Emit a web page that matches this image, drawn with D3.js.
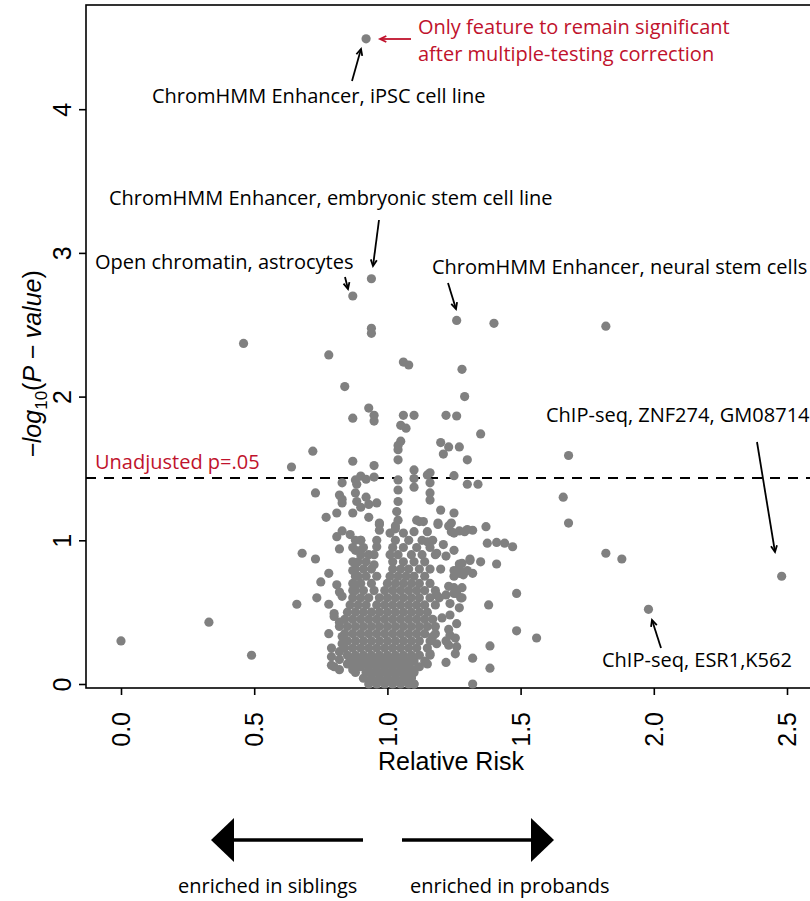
<!DOCTYPE html>
<html><head><meta charset="utf-8">
<script src="https://cdn.jsdelivr.net/npm/d3@7"></script>
<style>body{margin:0;background:#fff}svg{display:block}</style>
</head><body>
<svg id="c" width="810" height="901"></svg>
<script>
// ---- data: [relative risk, -log10(p)] ----
const labelledPoints = [[0.92,4.49],[0.94,2.82],[0.87,2.70],[1.26,2.53],[1.40,2.51],[1.82,2.49],[0.46,2.37],[2.48,0.75],[1.98,0.52]];
const upperPoints = [[0.94,2.475],[0.94,2.44],[0.78,2.29],[1.06,2.24],[1.08,2.22],[1.28,2.19],[0.84,2.07],[1.29,2.00],[0.93,1.92],[0.87,1.85],[0.95,1.87],[0.95,1.83],[1.06,1.87],[1.10,1.87],[1.05,1.80],[1.07,1.78],[1.22,1.87],[1.26,1.865],[1.35,1.74],[1.05,1.69],[1.04,1.66],[1.04,1.63],[1.04,1.56],[1.20,1.68],[1.23,1.65],[1.27,1.65],[1.21,1.60],[1.30,1.56],[0.72,1.62],[0.64,1.51],[0.87,1.55],[0.95,1.52],[1.10,1.49],[1.16,1.47],[1.25,1.45],[1.68,1.59]];
const thresholdPoints = [[0.90,1.447],[0.92,1.425],[0.95,1.44],[1.04,1.42],[1.10,1.43],[1.15,1.455],[0.88,1.42],[0.83,1.40],[1.10,1.37],[1.16,1.40],[1.30,1.39],[1.34,1.39],[1.04,1.35]];
const midPoints = [[0.73,1.33],[0.82,1.315],[0.83,1.285],[0.88,1.33],[0.885,1.39],[0.92,1.30],[0.83,1.26],[0.885,1.27],[0.90,1.23],[0.93,1.25],[0.96,1.26],[0.87,1.19],[0.81,1.19],[0.77,1.16],[0.93,1.16],[0.97,1.12],[0.97,1.07],[0.97,1.11],[1.16,1.33],[1.16,1.28],[1.04,1.27],[1.035,1.20],[1.04,1.14],[1.03,1.08],[1.20,1.21],[1.25,1.19],[1.12,1.13],[1.11,1.14],[1.135,1.13],[1.19,1.12],[1.24,1.12],[1.19,1.11],[1.23,1.10],[1.24,1.06],[1.27,1.065],[1.30,1.075],[1.32,1.07],[1.37,1.095],[1.25,1.05],[1.29,1.06],[1.66,1.30],[1.68,1.12]];
const rowPoints = [[1.375,0.98],[1.41,0.985],[1.44,0.98],[1.47,0.955],[1.15,0.99],[1.17,1.00],[1.21,0.97],[1.25,0.93],[1.22,0.89],[1.185,0.91],[0.83,1.065],[0.81,1.025],[0.86,1.04],[0.88,1.00],[0.90,1.00],[0.88,0.93],[0.82,0.94],[0.87,0.95],[0.90,0.93],[0.96,1.00],[0.96,0.955],[0.95,0.90],[0.95,0.83],[1.10,1.06],[1.15,1.06],[1.82,0.91],[1.88,0.87],[1.35,0.85],[1.41,0.835],[1.31,0.87],[1.27,0.835],[1.28,0.84],[1.32,0.77],[1.285,0.77],[1.25,0.79],[1.27,0.805],[1.25,0.75],[1.285,0.76],[1.30,0.79],[1.31,0.86],[1.27,0.77]];
const leftPoints = [[0.68,0.91],[0.73,0.87],[0.75,0.71],[0.735,0.60],[0.78,0.77],[0.66,0.555],[0.78,0.555],[0.78,0.35],[0.87,0.85],[0.87,0.79],[0.88,0.75],[0.88,0.69],[0.87,0.65],[0.81,0.69],[0.82,0.64],[0.83,0.61],[0.80,0.49],[0.82,0.43],[0.80,0.47],[0.79,0.25],[0.79,0.19],[0.79,0.13],[0.82,0.10],[0.82,0.225],[0.82,0.40],[0.83,0.33],[0.83,0.28],[0.87,0.10],[0.87,0.18],[0.85,0.14],[0.80,0.12],[0.82,0.17],[0.00,0.30],[0.33,0.43],[0.49,0.20]];
const rightPoints = [[1.485,0.63],[1.38,0.55],[1.485,0.37],[1.56,0.32],[1.385,0.265],[1.385,0.11],[1.32,0.00],[1.32,0.18],[1.22,0.15],[1.10,0.00],[1.28,0.67],[1.23,0.68],[1.26,0.63],[1.275,0.60],[1.22,0.62],[1.235,0.56],[1.195,0.60],[1.185,0.62],[1.235,0.48],[1.205,0.46],[1.18,0.40],[1.23,0.38],[1.255,0.32],[1.26,0.26],[1.255,0.21],[1.22,0.30],[1.26,0.42],[1.235,0.34],[1.23,0.27],[1.185,0.28],[1.17,0.33],[1.16,0.21],[1.15,0.14],[1.27,0.53],[1.25,0.67],[1.28,0.60],[1.25,0.63],[1.09,0.05],[1.10,0.10]];
const clusterPoints = [
[0.93,0.00],[0.96,0.00],[0.99,0.00],[1.02,0.00],[1.05,0.00],[1.08,0.00],[1.10,0.00],
[0.91,0.04],[0.94,0.04],[0.97,0.04],[1.00,0.04],[1.03,0.04],[1.06,0.04],[1.09,0.04],
[0.88,0.08],[0.92,0.08],[0.95,0.08],[0.98,0.08],[1.01,0.08],[1.04,0.08],[1.07,0.08],[1.10,0.08],
[0.87,0.12],[0.90,0.12],[0.93,0.12],[0.96,0.12],[0.99,0.12],[1.02,0.12],[1.05,0.12],[1.08,0.12],[1.12,0.12],
[0.86,0.16],[0.89,0.16],[0.92,0.16],[0.95,0.16],[0.98,0.16],[1.01,0.16],[1.04,0.16],[1.07,0.16],[1.10,0.16],[1.14,0.16],
[0.85,0.20],[0.88,0.20],[0.91,0.20],[0.94,0.20],[0.97,0.20],[1.00,0.20],[1.03,0.20],[1.06,0.20],[1.09,0.20],[1.12,0.20],[1.16,0.20],
[0.84,0.25],[0.87,0.25],[0.90,0.25],[0.93,0.25],[0.96,0.25],[0.99,0.25],[1.02,0.25],[1.05,0.25],[1.08,0.25],[1.11,0.25],[1.15,0.25],
[0.85,0.30],[0.88,0.30],[0.91,0.30],[0.94,0.30],[0.97,0.30],[1.00,0.30],[1.03,0.30],[1.06,0.30],[1.09,0.30],[1.12,0.30],[1.16,0.30],
[0.84,0.35],[0.87,0.35],[0.90,0.35],[0.93,0.35],[0.96,0.35],[0.99,0.35],[1.02,0.35],[1.05,0.35],[1.08,0.35],[1.11,0.35],[1.14,0.35],[1.18,0.35],
[0.85,0.40],[0.88,0.40],[0.91,0.40],[0.94,0.40],[0.97,0.40],[1.00,0.40],[1.03,0.40],[1.06,0.40],[1.09,0.40],[1.12,0.40],[1.15,0.40],
[0.84,0.45],[0.87,0.45],[0.90,0.45],[0.93,0.45],[0.96,0.45],[0.99,0.45],[1.02,0.45],[1.05,0.45],[1.08,0.45],[1.11,0.45],[1.14,0.45],[1.17,0.45],
[0.85,0.50],[0.88,0.50],[0.91,0.50],[0.94,0.50],[0.97,0.50],[1.00,0.50],[1.03,0.50],[1.06,0.50],[1.09,0.50],[1.12,0.50],[1.15,0.50],
[0.86,0.55],[0.89,0.55],[0.92,0.55],[0.96,0.55],[0.99,0.55],[1.02,0.55],[1.05,0.55],[1.08,0.55],[1.11,0.55],[1.14,0.55],[1.18,0.55],
[0.87,0.60],[0.90,0.60],[0.93,0.60],[0.97,0.60],[1.00,0.60],[1.03,0.60],[1.06,0.60],[1.09,0.60],[1.12,0.60],[1.16,0.60],
[0.88,0.65],[0.91,0.65],[0.95,0.65],[0.99,0.65],[1.02,0.65],[1.05,0.65],[1.08,0.65],[1.11,0.65],[1.14,0.65],[1.18,0.65],
[0.87,0.70],[0.90,0.70],[0.94,0.70],[1.00,0.70],[1.03,0.70],[1.06,0.70],[1.09,0.70],[1.12,0.70],[1.16,0.70],
[0.89,0.75],[0.92,0.75],[0.96,0.75],[1.01,0.75],[1.04,0.75],[1.07,0.75],[1.10,0.75],[1.14,0.75],
[0.88,0.80],[0.91,0.80],[0.94,0.80],[1.02,0.80],[1.05,0.80],[1.08,0.80],[1.12,0.80],[1.16,0.80],[1.20,0.80],
[0.89,0.85],[0.92,0.85],[1.02,0.85],[1.06,0.85],[1.10,0.85],[1.14,0.85],
[0.90,0.90],[0.93,0.90],[1.01,0.90],[1.04,0.90],[1.09,0.90],[1.13,0.90],[1.18,0.90],
[0.91,0.95],[1.02,0.95],[1.06,0.95],[1.11,0.95],[1.16,0.95],
[0.90,1.00],[1.03,1.00],[1.08,1.00],[1.13,1.00],[1.01,1.05],[1.06,1.05],[1.03,1.10]];
const xTicks = [0, 0.5, 1.0, 1.5, 2.0, 2.5];
const yTicks = [0, 1, 2, 3, 4];
const thresholdValue = 1.434;
const thresholdLabel = "Unadjusted p=.05";
const xTitle = "Relative Risk";
const annotations = [
  {text:"ChromHMM Enhancer, iPSC cell line", x:152, y:103, color:"#000"},
  {text:"ChromHMM Enhancer, embryonic stem cell line", x:109, y:205, color:"#000"},
  {text:"Open chromatin, astrocytes", x:95, y:269, color:"#000"},
  {text:"ChromHMM Enhancer, neural stem cells", x:432, y:274, color:"#000"},
  {text:"ChIP-seq, ZNF274, GM08714", x:546, y:422, color:"#000"},
  {text:"ChIP-seq, ESR1,K562", x:602, y:667, color:"#000"},
  {text:"Only feature to remain significant", x:418, y:34, color:"#c0122c"},
  {text:"after multiple-testing correction", x:418, y:61, color:"#c0122c"}
];
const arrows = [
  {x1:411,y1:39,x2:380,y2:39,color:"#c0122c"},
  {x1:352,y1:81,x2:361,y2:49,color:"#000"},
  {x1:379,y1:220,x2:373,y2:266,color:"#000"},
  {x1:345,y1:277,x2:348,y2:289,color:"#000"},
  {x1:448,y1:283,x2:456,y2:309,color:"#000"},
  {x1:757,y1:442,x2:775,y2:552,color:"#000"},
  {x1:661,y1:648,x2:652,y2:620,color:"#000"}
];

const svg = d3.select("#c");
const x = d3.scaleLinear().domain([0, 2.5]).range([121, 787]);
const y = d3.scaleLinear().domain([0, 4]).range([684, 109.2]);
const frameL = 86, frameT = 5, frameB = 688, frameR = 815;
const annFont = "'Open Sans', 'Noto Sans', sans-serif";
const axFont = "'Liberation Sans', Arial, sans-serif";
const annSize = 20;

// frame
svg.append("rect").attr("x", frameL).attr("y", frameT).attr("width", frameR-frameL).attr("height", frameB-frameT)
  .attr("fill","none").attr("stroke","#000").attr("stroke-width",1.6);

// threshold
svg.append("line").attr("x1", frameL).attr("x2", 810).attr("y1", y(thresholdValue)).attr("y2", y(thresholdValue))
  .attr("stroke","#000").attr("stroke-width",2).attr("stroke-dasharray","10,8");

// points
const allPts = [].concat(clusterPoints, leftPoints, rightPoints, rowPoints, midPoints, thresholdPoints, upperPoints, labelledPoints);
svg.append("g").selectAll("circle").data(allPts).join("circle")
  .attr("cx", d => x(d[0])).attr("cy", d => y(d[1])).attr("r", 4.6).attr("fill", "#808080");

// axes
const xAxis = svg.append("g").attr("transform", `translate(0,${frameB})`)
  .call(d3.axisBottom(x).tickValues(xTicks).tickFormat(d3.format(".1f")).tickSize(7).tickSizeOuter(0));
xAxis.select(".domain").remove();
xAxis.selectAll(".tick line").attr("stroke","#000").attr("stroke-width",1.6);
xAxis.selectAll(".tick text").attr("font-family", axFont).attr("font-size", 25).attr("fill","#000")
  .attr("text-anchor","end").attr("transform","rotate(-90)").attr("x", -24).attr("y", 0).attr("dy","0.35em");

const yAxis = svg.append("g").attr("transform", `translate(${frameL},0)`)
  .call(d3.axisLeft(y).tickValues(yTicks).tickFormat(d3.format("d")).tickSize(7).tickSizeOuter(0));
yAxis.select(".domain").remove();
yAxis.selectAll(".tick line").attr("stroke","#000").attr("stroke-width",1.6);
yAxis.selectAll(".tick text").attr("font-family", axFont).attr("font-size", 25).attr("fill","#000")
  .attr("text-anchor","middle").attr("transform","rotate(-90)").attr("x", 0).attr("y", -15).attr("dy", 0);

// axis titles
svg.append("text").attr("x", 451).attr("y", 770).attr("text-anchor","middle")
  .attr("font-family", axFont).attr("font-size", 25).text(xTitle);
const yt = svg.append("text").attr("transform","translate(41,364) rotate(-90)").attr("text-anchor","middle")
  .attr("font-family", axFont).attr("font-size", 25).attr("font-style","italic");
yt.append("tspan").text("\u2212log");
yt.append("tspan").attr("font-size", 17).attr("dy", 6).attr("font-style","normal").text("10");
yt.append("tspan").attr("dy", -6).attr("font-style","normal").text("(");
yt.append("tspan").text("P \u2212 value");
yt.append("tspan").attr("font-style","normal").text(")");

// threshold label
svg.append("text").attr("x", 95).attr("y", 469).attr("font-family", annFont).attr("font-size", annSize)
  .attr("fill","#c0122c").text(thresholdLabel);

// annotations
svg.append("g").selectAll("text").data(annotations).join("text")
  .attr("x", d => d.x).attr("y", d => d.y).attr("fill", d => d.color)
  .attr("font-family", annFont).attr("font-size", annSize).text(d => d.text);

// arrows with open heads
const ag = svg.append("g");
arrows.forEach(a => {
  ag.append("line").attr("x1",a.x1).attr("y1",a.y1).attr("x2",a.x2).attr("y2",a.y2)
    .attr("stroke",a.color).attr("stroke-width",1.8);
  const ang = Math.atan2(a.y2-a.y1, a.x2-a.x1), L = 7, w = 0.45;
  const p1 = [a.x2 - L*Math.cos(ang-w), a.y2 - L*Math.sin(ang-w)];
  const p2 = [a.x2 - L*Math.cos(ang+w), a.y2 - L*Math.sin(ang+w)];
  ag.append("path").attr("d", `M${p1}L${a.x2},${a.y2}L${p2}`).attr("fill","none")
    .attr("stroke",a.color).attr("stroke-width",1.8);
});

// bottom direction arrows
const bg = svg.append("g");
bg.append("line").attr("x1",232).attr("x2",363).attr("y1",840).attr("y2",840).attr("stroke","#000").attr("stroke-width",3.4);
bg.append("path").attr("d","M211,840L234,818L234,862Z").attr("fill","#000");
bg.append("line").attr("x1",402).attr("x2",533).attr("y1",840).attr("y2",840).attr("stroke","#000").attr("stroke-width",3.4);
bg.append("path").attr("d","M554,840L531,818L531,862Z").attr("fill","#000");
bg.append("text").attr("x",178).attr("y",893).attr("font-family",annFont).attr("font-size",annSize).text("enriched in siblings");
bg.append("text").attr("x",410).attr("y",893).attr("font-family",annFont).attr("font-size",annSize).text("enriched in probands");
</script>
</body></html>
